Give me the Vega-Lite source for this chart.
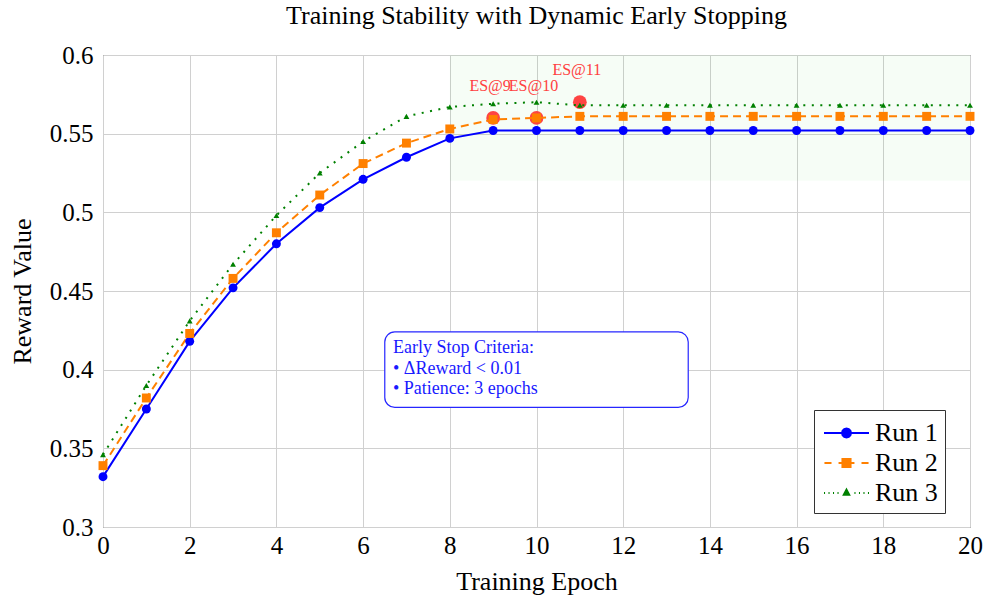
{
  "$schema": "https://vega.github.io/schema/vega-lite/v6.json",
  "width": 867,
  "height": 472,
  "autosize": {"type": "none"},
  "padding": {"left": 103, "top": 55, "right": 14, "bottom": 75},
  "background": "#ffffff",
  "title": {
    "text": "Training Stability with Dynamic Early Stopping",
    "font": "Liberation Serif",
    "fontSize": 26,
    "fontWeight": "normal",
    "color": "#000000",
    "frame": "group",
    "anchor": "middle",
    "baseline": "alphabetic",
    "offset": -7
  },
  "datasets": {
    "runs": [
      {"epoch": 0, "run": "Run 1", "reward": 0.332},
      {"epoch": 1, "run": "Run 1", "reward": 0.375},
      {"epoch": 2, "run": "Run 1", "reward": 0.418},
      {"epoch": 3, "run": "Run 1", "reward": 0.452},
      {"epoch": 4, "run": "Run 1", "reward": 0.480},
      {"epoch": 5, "run": "Run 1", "reward": 0.503},
      {"epoch": 6, "run": "Run 1", "reward": 0.521},
      {"epoch": 7, "run": "Run 1", "reward": 0.535},
      {"epoch": 8, "run": "Run 1", "reward": 0.547},
      {"epoch": 9, "run": "Run 1", "reward": 0.552},
      {"epoch": 10, "run": "Run 1", "reward": 0.552},
      {"epoch": 11, "run": "Run 1", "reward": 0.552},
      {"epoch": 12, "run": "Run 1", "reward": 0.552},
      {"epoch": 13, "run": "Run 1", "reward": 0.552},
      {"epoch": 14, "run": "Run 1", "reward": 0.552},
      {"epoch": 15, "run": "Run 1", "reward": 0.552},
      {"epoch": 16, "run": "Run 1", "reward": 0.552},
      {"epoch": 17, "run": "Run 1", "reward": 0.552},
      {"epoch": 18, "run": "Run 1", "reward": 0.552},
      {"epoch": 19, "run": "Run 1", "reward": 0.552},
      {"epoch": 20, "run": "Run 1", "reward": 0.552},
      {"epoch": 0, "run": "Run 2", "reward": 0.339},
      {"epoch": 1, "run": "Run 2", "reward": 0.382},
      {"epoch": 2, "run": "Run 2", "reward": 0.423},
      {"epoch": 3, "run": "Run 2", "reward": 0.458},
      {"epoch": 4, "run": "Run 2", "reward": 0.487},
      {"epoch": 5, "run": "Run 2", "reward": 0.511},
      {"epoch": 6, "run": "Run 2", "reward": 0.531},
      {"epoch": 7, "run": "Run 2", "reward": 0.544},
      {"epoch": 8, "run": "Run 2", "reward": 0.553},
      {"epoch": 9, "run": "Run 2", "reward": 0.559},
      {"epoch": 10, "run": "Run 2", "reward": 0.560},
      {"epoch": 11, "run": "Run 2", "reward": 0.561},
      {"epoch": 12, "run": "Run 2", "reward": 0.561},
      {"epoch": 13, "run": "Run 2", "reward": 0.561},
      {"epoch": 14, "run": "Run 2", "reward": 0.561},
      {"epoch": 15, "run": "Run 2", "reward": 0.561},
      {"epoch": 16, "run": "Run 2", "reward": 0.561},
      {"epoch": 17, "run": "Run 2", "reward": 0.561},
      {"epoch": 18, "run": "Run 2", "reward": 0.561},
      {"epoch": 19, "run": "Run 2", "reward": 0.561},
      {"epoch": 20, "run": "Run 2", "reward": 0.561},
      {"epoch": 0, "run": "Run 3", "reward": 0.346},
      {"epoch": 1, "run": "Run 3", "reward": 0.390},
      {"epoch": 2, "run": "Run 3", "reward": 0.431},
      {"epoch": 3, "run": "Run 3", "reward": 0.467},
      {"epoch": 4, "run": "Run 3", "reward": 0.498},
      {"epoch": 5, "run": "Run 3", "reward": 0.525},
      {"epoch": 6, "run": "Run 3", "reward": 0.545},
      {"epoch": 7, "run": "Run 3", "reward": 0.561},
      {"epoch": 8, "run": "Run 3", "reward": 0.567},
      {"epoch": 9, "run": "Run 3", "reward": 0.569},
      {"epoch": 10, "run": "Run 3", "reward": 0.570},
      {"epoch": 11, "run": "Run 3", "reward": 0.568},
      {"epoch": 12, "run": "Run 3", "reward": 0.568},
      {"epoch": 13, "run": "Run 3", "reward": 0.568},
      {"epoch": 14, "run": "Run 3", "reward": 0.568},
      {"epoch": 15, "run": "Run 3", "reward": 0.568},
      {"epoch": 16, "run": "Run 3", "reward": 0.568},
      {"epoch": 17, "run": "Run 3", "reward": 0.568},
      {"epoch": 18, "run": "Run 3", "reward": 0.568},
      {"epoch": 19, "run": "Run 3", "reward": 0.568},
      {"epoch": 20, "run": "Run 3", "reward": 0.568}
    ],
    "es": [
      {"epoch": 9, "reward": 0.560, "label": "ES@9"},
      {"epoch": 10, "reward": 0.560, "label": "ES@10"},
      {"epoch": 11, "reward": 0.570, "label": "ES@11"}
    ],
    "zone": [{"x0": 8, "x1": 20, "y0": 0.52, "y1": 0.6}],
    "note": [{"x0": 6.5, "x1": 13.5, "y0": 0.376, "y1": 0.424, "tx": 6.69, "ty": 0.4137, "text": ["Early Stop Criteria:", "• ΔReward < 0.01", "• Patience: 3 epochs"]}]
  },
  "encoding": {
    "x": {
      "field": "epoch", "type": "quantitative",
      "scale": {"domain": [0, 20], "nice": false, "zero": false},
      "axis": {"title": "Training Epoch", "values": [0, 2, 4, 6, 8, 10, 12, 14, 16, 18, 20], "labelPadding": 6, "titlePadding": 10, "labelFlush": false, "labelOverlap": false}
    },
    "y": {
      "field": "reward", "type": "quantitative",
      "scale": {"domain": [0.3, 0.6], "nice": false, "zero": false},
      "axis": {"title": "Reward Value", "values": [0.3, 0.35, 0.4, 0.45, 0.5, 0.55, 0.6], "format": ".2~f", "labelPadding": 10, "titlePadding": 14, "labelFlush": false, "labelOverlap": false}
    }
  },
  "layer": [
    {
      "data": {"name": "zone"},
      "mark": {"type": "rect", "fill": "#00c000", "opacity": 0.035},
      "encoding": {
        "x": {"field": "x0", "type": "quantitative"},
        "x2": {"field": "x1"},
        "y": {"field": "y0", "type": "quantitative"},
        "y2": {"field": "y1"}
      }
    },
    {
      "data": {"name": "note"},
      "mark": {"type": "rect", "fill": "#ffffff", "stroke": "#2626ff", "strokeWidth": 1.2, "cornerRadius": 10},
      "encoding": {
        "x": {"field": "x0", "type": "quantitative"},
        "x2": {"field": "x1"},
        "y": {"field": "y0", "type": "quantitative"},
        "y2": {"field": "y1"}
      }
    },
    {
      "data": {"name": "es"},
      "mark": {"type": "circle", "fill": "#ff3030", "opacity": 0.9, "size": 190}
    },
    {
      "data": {"name": "runs"},
      "transform": [{"filter": "datum.run === 'Run 1'"}],
      "mark": {"type": "line", "strokeWidth": 2, "color": "#0000ff"}
    },
    {
      "data": {"name": "runs"},
      "transform": [{"filter": "datum.run === 'Run 2'"}],
      "mark": {"type": "line", "strokeWidth": 2, "color": "#ff8000", "strokeDash": [8, 5]}
    },
    {
      "data": {"name": "runs"},
      "transform": [{"filter": "datum.run === 'Run 3'"}],
      "mark": {"type": "line", "strokeWidth": 2, "color": "#008000", "strokeDash": [2, 6.5]}
    },
    {
      "data": {"name": "runs"},
      "transform": [{"filter": "datum.run === 'Run 1'"}],
      "mark": {"type": "point", "shape": "circle", "filled": true, "color": "#0000ff", "opacity": 1, "size": 80}
    },
    {
      "data": {"name": "runs"},
      "transform": [{"filter": "datum.run === 'Run 2'"}],
      "mark": {"type": "point", "shape": "square", "filled": true, "color": "#ff8000", "opacity": 1, "size": 80}
    },
    {
      "data": {"name": "runs"},
      "transform": [{"filter": "datum.run === 'Run 3'"}],
      "mark": {"type": "point", "shape": "triangle-up", "filled": true, "color": "#008000", "opacity": 1, "size": 34}
    },
    {
      "data": {"name": "es"},
      "mark": {"type": "text", "font": "Liberation Serif", "fontSize": 16, "color": "#ff4040", "align": "center", "baseline": "alphabetic", "dy": -27, "dx": -3},
      "encoding": {"text": {"field": "label"}}
    },
    {
      "data": {"name": "note"},
      "mark": {"type": "text", "font": "Liberation Serif", "fontSize": 18, "color": "#1a1aff", "align": "left", "baseline": "middle", "lineHeight": 20.5},
      "encoding": {
        "x": {"field": "tx", "type": "quantitative"},
        "y": {"field": "ty", "type": "quantitative"},
        "text": {"field": "text"}
      }
    },
    {
      "data": {"name": "runs"},
      "mark": {"type": "point", "opacity": 0, "filled": true},
      "encoding": {
        "fill": {"field": "run", "type": "nominal",
          "scale": {"domain": ["Run 1", "Run 2", "Run 3"], "range": ["#0000ff", "#ff8000", "#008000"]},
          "legend": {"title": null, "orient": "none", "legendX": 711, "legendY": 355, "symbolOpacity": 1}},
        "stroke": {"field": "run", "type": "nominal",
          "scale": {"domain": ["Run 1", "Run 2", "Run 3"], "range": ["#0000ff", "#ff8000", "#008000"]},
          "legend": {"title": null, "orient": "none", "legendX": 711, "legendY": 355, "symbolOpacity": 1}},
        "shape": {"field": "run", "type": "nominal",
          "scale": {"domain": ["Run 1", "Run 2", "Run 3"], "range": [
            "M-1.5,0L1.5,0M0.3,0L0.26,0.15L0.15,0.26L0,0.3L-0.15,0.26L-0.26,0.15L-0.3,0L-0.26,-0.15L-0.15,-0.26L0,-0.3L0.15,-0.26L0.26,-0.15Z",
            "M-1.47,0L-1,0M-0.53,0L0.53,0M1,0L1.47,0M-0.27,-0.27L0.27,-0.27L0.27,0.27L-0.27,0.27Z",
            "M-1.5,0L-1.43,0M-1.2,0L-1.13,0M-0.9,0L-0.83,0M-0.6,0L-0.53,0M0.53,0L0.6,0M0.83,0L0.9,0M1.13,0L1.2,0M1.43,0L1.5,0M0,-0.22L0.18,0.12L-0.18,0.12Z"
          ]},
          "legend": {"title": null, "orient": "none", "legendX": 711, "legendY": 355, "symbolOpacity": 1}}
      }
    }
  ],
  "config": {
    "view": {"stroke": "#404040", "strokeWidth": 1},
    "axis": {
      "labelFont": "Liberation Serif", "labelFontSize": 25, "labelColor": "#000000",
      "titleFont": "Liberation Serif", "titleFontSize": 26, "titleFontWeight": "normal", "titleColor": "#000000",
      "gridColor": "#d0d0d0", "gridWidth": 1, "domain": false, "ticks": false
    },
    "legend": {
      "padding": 7, "fillColor": "#ffffff", "strokeColor": "#333333",
      "labelFont": "Liberation Serif", "labelFontSize": 26, "labelColor": "#000000",
      "symbolSize": 900, "symbolStrokeWidth": 2, "symbolOffset": 9.5, "labelOffset": 12.5, "rowPadding": 1
    }
  }
}
